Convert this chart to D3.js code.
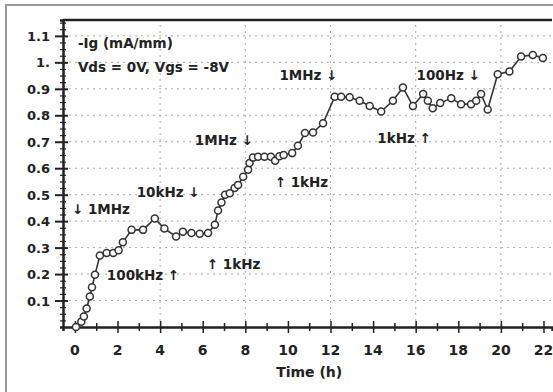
<!DOCTYPE html>
<html>
<head>
<meta charset="utf-8">
<script src="https://cdn.jsdelivr.net/npm/d3@7"></script>
<style>
  body { margin: 0; background: #fff; }
  text { font-family: "DejaVu Sans", sans-serif; font-weight: bold; fill: #222; }
</style>
</head>
<body>
<div id="chart"></div>
<script>
// data
const timeH = [0.05, 0.3, 0.42, 0.55, 0.7, 0.8, 0.94, 1.17, 1.49, 1.8, 2.05, 2.25, 2.66, 3.2, 3.75,
  4.2, 4.75, 5.07, 5.47, 5.86, 6.25, 6.57, 6.72, 6.88, 7.05, 7.27, 7.5, 7.66, 7.9, 8.13, 8.2, 8.36,
  8.6, 8.9, 9.2, 9.4, 9.6, 9.8, 10.2, 10.47, 10.8, 11.18, 11.65, 12.2, 12.5, 12.9, 13.37, 13.84,
  14.38, 14.93, 15.4, 15.87, 16.35, 16.57, 16.8, 17.15, 17.67, 18.13, 18.6, 18.84, 19.07, 19.38,
  19.85, 20.4, 20.95, 21.5, 21.97];
const igValues = [0, 0.02, 0.04, 0.07, 0.115, 0.15, 0.197, 0.27, 0.28, 0.28, 0.29, 0.32, 0.367, 0.367, 0.41,
  0.372, 0.342, 0.36, 0.355, 0.352, 0.355, 0.386, 0.44, 0.47, 0.5, 0.505, 0.525, 0.537, 0.568, 0.594, 0.62, 0.64,
  0.643, 0.643, 0.643, 0.628, 0.645, 0.65, 0.657, 0.685, 0.733, 0.735, 0.77, 0.87, 0.87, 0.868, 0.855, 0.835,
  0.814, 0.855, 0.905, 0.835, 0.88, 0.855, 0.827, 0.846, 0.864, 0.842, 0.842, 0.855, 0.88, 0.822,
  0.955, 0.965, 1.022, 1.028, 1.016];

const xTicks = [0, 2, 4, 6, 8, 10, 12, 14, 16, 18, 20, 22];
const yTicks = [0.1, 0.2, 0.3, 0.4, 0.5, 0.6, 0.7, 0.8, 0.9, 1.0, 1.1];
const yTickLabels = ["0.1", "0.2", "0.3", "0.4", "0.5", "0.6", "0.7", "0.8", "0.9", "1.", "1.1"];
const xGrid = [4, 8, 12, 16, 20];

// annotations: [time, value, text]
const notes = [
  [0.14, 1.055, "-Ig (mA/mm)"],
  [0.14, 0.964, "Vds = 0V, Vgs = -8V"],
  [5.63, 0.688, "1MHz \u2193"],
  [2.9, 0.49, "10kHz \u2193"],
  [-0.14, 0.427, "\u2193 1MHz"],
  [1.5, 0.178, "100kHz \u2191"],
  [6.19, 0.219, "\u2191 1kHz"],
  [9.38, 0.529, "\u2191 1kHz"],
  [9.6, 0.934, "1MHz \u2193"],
  [16.04, 0.934, "100Hz \u2193"],
  [14.2, 0.696, "1kHz \u2191"]
];

const W = 553, H = 392;
const svg = d3.select("#chart").append("svg")
  .attr("width", W).attr("height", H);

// outer frame
svg.append("rect")
  .attr("x", 6).attr("y", 5).attr("width", W + 10).attr("height", H + 10)
  .attr("fill", "none").attr("stroke", "#999").attr("stroke-width", 2);

const x = d3.scaleLinear().domain([-0.56, 22.4]).range([63, 552]);
const y = d3.scaleLinear().domain([0, 1.16]).range([327, 20]);

// grid
svg.append("g").selectAll("line").data(yTicks).enter().append("line")
  .attr("x1", x.range()[0]).attr("x2", x.range()[1])
  .attr("y1", d => y(d)).attr("y2", d => y(d))
  .attr("stroke", "#aaa").attr("stroke-dasharray", "2,4");
svg.append("g").selectAll("line").data(xGrid).enter().append("line")
  .attr("x1", d => x(d)).attr("x2", d => x(d))
  .attr("y1", y.range()[0]).attr("y2", y.range()[1])
  .attr("stroke", "#aaa").attr("stroke-dasharray", "2,4");

// top frame line
svg.append("line")
  .attr("x1", x.range()[0]).attr("x2", x.range()[1])
  .attr("y1", y.range()[1]).attr("y2", y.range()[1])
  .attr("stroke", "#222").attr("stroke-width", 2.5);

// x axis
const xAxis = svg.append("g")
  .attr("transform", `translate(0,${y(0)})`)
  .call(d3.axisBottom(x).tickValues(d3.range(0, 23, 1)).tickSize(4).tickFormat(""));
xAxis.select(".domain").attr("stroke", "#222").attr("stroke-width", 2.5);
xAxis.selectAll(".tick line").attr("y1", -4).attr("stroke", "#222").attr("stroke-width", 1.5);
xAxis.selectAll(".tick").filter(d => d % 2 === 0).select("line").attr("y1", -6).attr("y2", 6);

svg.append("g").selectAll("text").data(xTicks).enter().append("text")
  .attr("x", d => x(d)).attr("y", 355)
  .attr("text-anchor", "middle").attr("font-size", 14)
  .text(d => d);

// y axis
const yAxis = svg.append("g")
  .attr("transform", `translate(${x.range()[0]},0)`)
  .call(d3.axisLeft(y).tickValues(d3.range(0.025, 1.16, 0.025)).tickSize(3).tickFormat(""));
yAxis.select(".domain").attr("stroke", "#222").attr("stroke-width", 2.5);
yAxis.selectAll(".tick line").attr("x1", 3).attr("stroke", "#222").attr("stroke-width", 1.2);
yAxis.selectAll(".tick").filter(d => yTicks.some(t => Math.abs(t - d) < 1e-6))
  .select("line").attr("x2", -8).attr("x1", 5).attr("stroke-width", 2);

svg.append("g").selectAll("text").data(yTicks).enter().append("text")
  .attr("x", 50).attr("y", d => y(d) + 5)
  .attr("text-anchor", "end").attr("font-size", 13)
  .text((d, i) => yTickLabels[i]);

svg.append("text")
  .attr("x", (x(0) + x(22)) / 2).attr("y", 377)
  .attr("text-anchor", "middle").attr("font-size", 14)
  .text("Time (h)");

// series
const pts = timeH.map((t, i) => [t, igValues[i]]);
svg.append("path")
  .datum(pts)
  .attr("fill", "none").attr("stroke", "#333").attr("stroke-width", 1.6)
  .attr("d", d3.line().x(d => x(d[0])).y(d => y(d[1])));

svg.append("g").selectAll("circle").data(pts).enter().append("circle")
  .attr("cx", d => x(d[0])).attr("cy", d => y(d[1])).attr("r", 3.5)
  .attr("fill", "#fff").attr("stroke", "#333").attr("stroke-width", 1.5);

// annotations
svg.append("g").selectAll("text").data(notes).enter().append("text")
  .attr("x", d => x(d[0])).attr("y", d => y(d[1]))
  .attr("font-size", 13.5)
  .text(d => d[2]);
</script>
</body>
</html>
